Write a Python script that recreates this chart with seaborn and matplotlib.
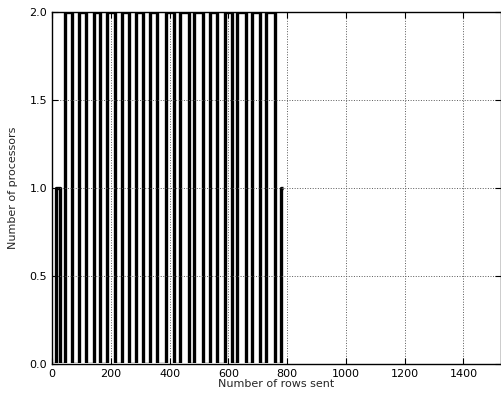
import seaborn as sns
import matplotlib
matplotlib.use("Agg")
import matplotlib.pyplot as plt
from matplotlib.transforms import Bbox, TransformedBbox

# step data: rows sent where the processor count changes
rows_sent = [0, 14, 27,
             43, 67, 92, 116, 141, 163, 187, 215, 237, 262, 285, 308, 333,
             357, 386, 415, 436, 466, 483, 514, 538, 562, 589, 613, 630,
             660, 679, 708, 728, 759,
             780, 786]
processors = [0, 1, 0] + [2, 0] * 15 + [1, 1]

sns.set_style("ticks")
plt.rcParams["font.family"] = ["DejaVu Sans"]

fig = plt.figure(figsize=(5.01, 3.96), dpi=100)
ax = fig.add_axes([0.104, 0.081, 0.896, 0.889])

sns.lineplot(x=rows_sent, y=processors, drawstyle="steps-post", color="black",
             linewidth=2.4, estimator=None, ax=ax)

# hide the plateaus that sit on the top and bottom spines
clip = TransformedBbox(Bbox([[0, 0.0035], [1, 0.9965]]), ax.transAxes)
for ln in ax.lines:
    ln.set_clip_box(clip)
    ln.set_solid_capstyle("butt")

ax.set_xlim(0, 1528)
ax.set_ylim(0, 2.0)
ax.set_xticks([0, 200, 400, 600, 800, 1000, 1200, 1400])
ax.set_yticks([0.0, 0.5, 1.0, 1.5, 2.0])
ax.set_yticklabels(["0.0", "0.5", "1.0", "1.5", "2.0"])
ax.tick_params(direction="in", length=4, width=0.8, labelsize=8, top=True, right=True,
               colors="black")
ax.set_axisbelow(False)
ax.grid(True, linestyle=":", color="0.35", linewidth=0.7)
for s in ax.spines.values():
    s.set_color("black")
    s.set_linewidth(1.0)
    s.set_zorder(3)

ax.set_xlabel("Number of rows sent", fontsize=8, labelpad=0)
ax.set_ylabel("Number of processors", fontsize=8, labelpad=8)

fig.savefig("out.png", dpi=100)
